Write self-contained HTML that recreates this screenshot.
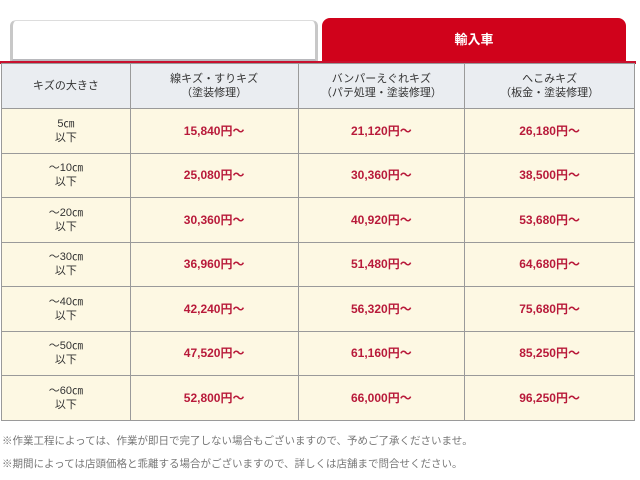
<!DOCTYPE html>
<html><head><meta charset="utf-8"><style>
body{margin:0;width:640px;height:480px;background:#fff;font-family:"Liberation Sans","Noto Sans CJK JP",sans-serif;position:relative;overflow:hidden}
.tabl{position:absolute;left:10px;top:20px;width:302px;height:38px;border-left:3px solid #c8c8c8;border-right:3px solid #c8c8c8;border-bottom:4px solid #b8b8bc;border-radius:6px 6px 0 0;border-top:1px solid #ddd;background:#fff}
.tabr{position:absolute;left:322px;top:18px;width:304px;height:45px;background:#d0021b;border-radius:8px 8px 0 0;color:#fff;font-weight:bold;font-size:13px;text-align:center;line-height:44px}
.line{position:absolute;left:0;top:61px;width:636px;height:3px;background:#c8102e}
table{position:absolute;left:1px;top:63px;border-collapse:collapse;width:634px}
td{border:1px solid #9a9a9a;text-align:center;font-size:11px;color:#333;line-height:14px;padding:0}
tr.h td{background:#eaedf1;height:44px}
tr.r td{background:#fdf8e3;height:43.5px}
td.p{color:#b81a3a;font-weight:bold;font-size:12px}
.n{position:absolute;left:2px;font-size:10.5px;color:#777}
</style></head><body>
<div class="tabl"></div>
<div class="tabr">輸入車</div>
<div class="line"></div>
<table>
<colgroup><col style="width:129px"><col style="width:168px"><col style="width:167px"><col style="width:170px"></colgroup>
<tr class="h"><td>キズの大きさ</td><td>線キズ・すりキズ<br>（塗装修理）</td><td>バンパーえぐれキズ<br>（パテ処理・塗装修理）</td><td>へこみキズ<br>（板金・塗装修理）</td></tr>
<tr class="r"><td>5㎝<br>以下</td><td class="p">15,840円～</td><td class="p">21,120円～</td><td class="p">26,180円～</td></tr>
<tr class="r"><td>～10㎝<br>以下</td><td class="p">25,080円～</td><td class="p">30,360円～</td><td class="p">38,500円～</td></tr>
<tr class="r"><td>～20㎝<br>以下</td><td class="p">30,360円～</td><td class="p">40,920円～</td><td class="p">53,680円～</td></tr>
<tr class="r"><td>～30㎝<br>以下</td><td class="p">36,960円～</td><td class="p">51,480円～</td><td class="p">64,680円～</td></tr>
<tr class="r"><td>～40㎝<br>以下</td><td class="p">42,240円～</td><td class="p">56,320円～</td><td class="p">75,680円～</td></tr>
<tr class="r"><td>～50㎝<br>以下</td><td class="p">47,520円～</td><td class="p">61,160円～</td><td class="p">85,250円～</td></tr>
<tr class="r"><td>～60㎝<br>以下</td><td class="p">52,800円～</td><td class="p">66,000円～</td><td class="p">96,250円～</td></tr>
</table>
<div class="n" style="top:433px">※作業工程によっては、作業が即日で完了しない場合もございますので、予めご了承くださいませ。</div>
<div class="n" style="top:456px">※期間によっては店頭価格と乖離する場合がございますので、詳しくは店舗まで問合せください。</div>
</body></html>
